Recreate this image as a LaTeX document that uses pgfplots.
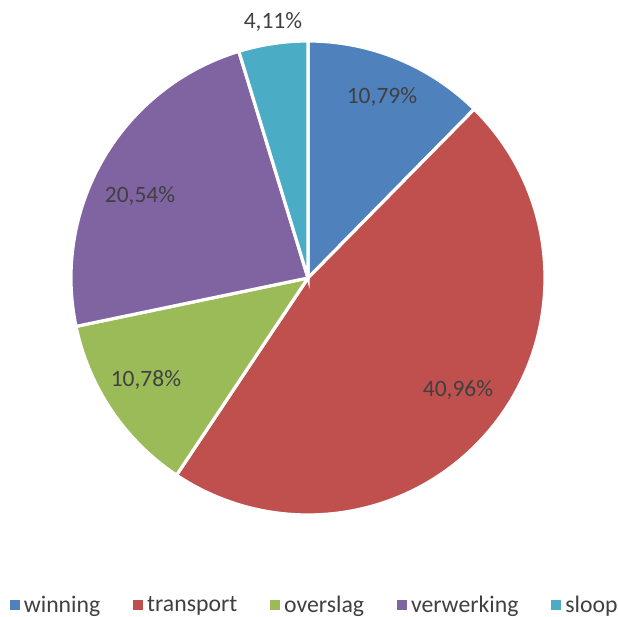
\documentclass[border=0pt]{standalone}
\usepackage{pgfplots}
\usepackage{pgfplotstable}
\pgfplotsset{compat=1.18}
\usepackage{fontspec}
\setmainfont{Carlito}
\definecolor{cwin}{HTML}{4F81BD}
\definecolor{ctra}{HTML}{C0504D}
\definecolor{cove}{HTML}{9BBB59}
\definecolor{cver}{HTML}{8064A2}
\definecolor{cslo}{HTML}{4BACC6}
\definecolor{txt}{HTML}{404040}
\pgfplotstableread{
name value lx ly
winning 10.79 0.312 0.764
transport 40.96 0.633 -0.473
overslag 10.78 -0.684 -0.430
verwerking 20.54 -0.709 0.346
sloop 4.11 -0.148 1.080
}\piedata
\newcommand\getval[2]{\pgfplotstablegetelem{#1}{value}\of\piedata\let#2\pgfplotsretval}
\getval{0}\va\getval{1}\vb\getval{2}\vc\getval{3}\vd\getval{4}\ve
\pgfmathsetmacro\tot{\va+\vb+\vc+\vd+\ve}
\pgfmathsetmacro\aA{90}
\pgfmathsetmacro\aB{\aA-360*\va/\tot}
\pgfmathsetmacro\aC{\aB-360*\vb/\tot}
\pgfmathsetmacro\aD{\aC-360*\vc/\tot}
\pgfmathsetmacro\aE{\aD-360*\vd/\tot}
\pgfmathsetmacro\aF{\aE-360*\ve/\tot}
\def\R{177.75pt}
\newcommand\sq[1]{\addlegendimage{legend image code/.code={\fill[#1] (0pt,-3.5pt) rectangle (7pt,3.5pt);}}}
\begin{document}%
\begin{tikzpicture}
\begin{axis}[
  scale only axis,
  x=177.75pt, y=177.75pt,
  xmin=-1.2996, xmax=1.308, ymin=-1.4304, ymax=1.173,
  hide axis, clip=false,
  legend style={at={(0.0151,0.0195)}, anchor=west, draw=none, fill=none,
    inner sep=0pt,
    font=\fontsize{17.8pt}{20pt}\selectfont, text=txt,
    /tikz/every odd column/.append style={column sep=1.3pt},
    /tikz/every even column/.append style={column sep=22.5pt}},
  legend columns=-1,
  legend cell align=left,
]
\coordinate (bl) at (rel axis cs:0,0);
\coordinate (tr) at (rel axis cs:1,1);
\begin{scope}[draw=white, line width=2.4pt, line join=miter]
\filldraw[fill=cwin] (axis cs:0,0) -- ++(\aA:\R) arc[start angle=\aA, end angle=\aB, radius=\R] -- cycle;
\filldraw[fill=ctra] (axis cs:0,0) -- ++(\aB:\R) arc[start angle=\aB, end angle=\aC, radius=\R] -- cycle;
\filldraw[fill=cove] (axis cs:0,0) -- ++(\aC:\R) arc[start angle=\aC, end angle=\aD, radius=\R] -- cycle;
\filldraw[fill=cver] (axis cs:0,0) -- ++(\aD:\R) arc[start angle=\aD, end angle=\aE, radius=\R] -- cycle;
\filldraw[fill=cslo] (axis cs:0,0) -- ++(\aE:\R) arc[start angle=\aE, end angle=\aF, radius=\R] -- cycle;
\end{scope}
\addplot[forget plot, only marks, mark=none,
  point meta=explicit,
  nodes near coords={\pgfmathprintnumber[use comma,fixed,fixed zerofill,precision=2,assume math mode=true]{\pgfplotspointmeta}\%},
  nodes near coords align={anchor=center},
  every node near coord/.append style={anchor=center, text=txt, font=\fontsize{17.6pt}{20pt}\selectfont}
] table[x=lx, y=ly, meta=value] {\piedata};
\sq{cwin}\addlegendentry{winning}
\sq{ctra}\addlegendentry{transport}
\sq{cove}\addlegendentry{overslag}
\sq{cver}\addlegendentry{verwerking}
\sq{cslo}\addlegendentry{sloop}
\end{axis}
\pgfresetboundingbox
\path[use as bounding box] (bl) rectangle (tr);
\end{tikzpicture}%
\end{document}
